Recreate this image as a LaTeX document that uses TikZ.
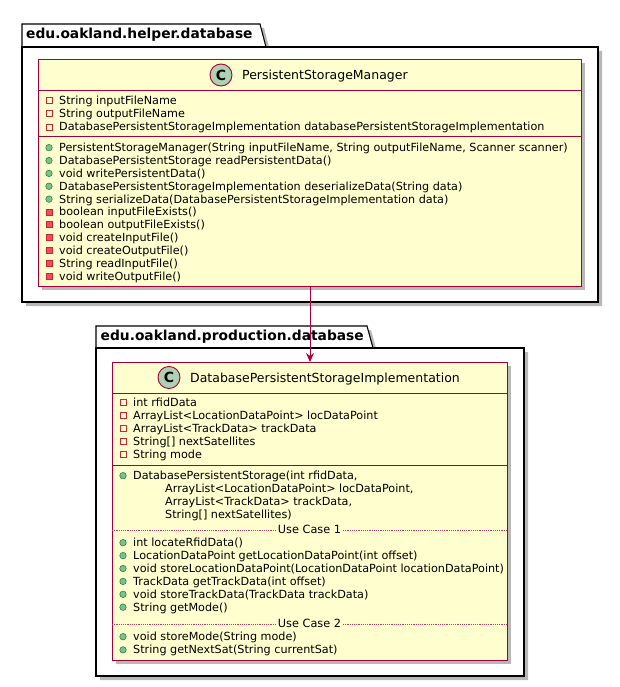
\documentclass[tikz,border=0pt]{standalone}
\usepackage{fontspec}
\setmainfont{DejaVu Sans}
\usetikzlibrary{arrows.meta}

\definecolor{umlred}{HTML}{A80036}
\definecolor{umlfill}{HTML}{FEFECE}
\definecolor{umlspot}{HTML}{ADD1B2}
\definecolor{privline}{HTML}{C82930}
\definecolor{privfill}{HTML}{F24D5C}
\definecolor{publine}{HTML}{038048}
\definecolor{pubfill}{HTML}{84BE84}

\tikzset{
  pkgbox/.style={draw=black, fill=white, line width=1.1pt},
  clsbox/.style={draw=umlred, fill=umlfill, line width=1pt, inner sep=0pt, anchor=north west},
  shadowed/.style={fill=black!28},
  pkgname/.style={anchor=base west, inner sep=0pt, font=\fontsize{13.8}{16}\selectfont\bfseries},
  clsname/.style={anchor=base west, inner sep=0pt, font=\fontsize{12.5}{15}\selectfont},
  member/.style={anchor=base west, inner sep=0pt, font=\fontsize{11.2}{13}\selectfont},
  prvfield/.style={draw=privline, fill=umlfill, minimum size=6pt, inner sep=0pt, line width=0.7pt},
  prvmeth/.style={draw=privline, fill=privfill, minimum size=6pt, inner sep=0pt, line width=0.7pt},
  pubmeth/.style={circle, draw=publine, fill=pubfill, minimum size=6.5pt, inner sep=0pt, line width=0.5pt},
  spot/.style={circle, draw=umlred, fill=umlspot, minimum size=22pt, inner sep=0pt, line width=0.9pt,
    font=\fontsize{14}{14}\selectfont\bfseries},
  usecase/.style={fill=umlfill, inner sep=1.5pt, font=\fontsize{11.3}{13}\selectfont},
  sepline/.style={draw=umlred!75, line width=0.6pt, dash pattern=on 1.2pt off 1pt},
  assoc/.style={draw=umlred, line width=0.9pt, -{Stealth[length=9pt,width=8pt,inset=3pt]}},
}

\begin{document}
\begin{tikzpicture}[x=1pt, y=-1pt]
  \useasboundingbox (0,0) rectangle (619,687);

  % package edu.oakland.helper.database
  \fill[shadowed] (26,28) -- (264,28) -- (270,51) -- (602,51) -- (602,306) -- (26,306) -- cycle;
  \draw[pkgbox] (22,47) -- (22,24) -- (260,24) -- (266,47) -- cycle;
  \draw[pkgbox] (22,47) rectangle (598,302);
  \node[pkgname] (helperpkg) at (26,38.5) {edu.oakland.helper.database};

  % package edu.oakland.production.database
  \fill[shadowed] (100,330) -- (371,330) -- (377,352) -- (528,352) -- (528,680) -- (100,680) -- cycle;
  \draw[pkgbox] (96,348) -- (96,326) -- (367,326) -- (373,348) -- cycle;
  \draw[pkgbox] (96,348) rectangle (524,676);
  \node[pkgname] (prodpkg) at (100.5,340) {edu.oakland.production.database};

  % class PersistentStorageManager
  \fill[shadowed] (42,63) rectangle (585,290);
  \node[clsbox, minimum width=543pt, minimum height=227pt] (psm) at (38,59) {};
  \draw[umlred, line width=1pt] (38,91) -- (581,91);
  \draw[umlred, line width=1pt] (38,137) -- (581,137);
  \node[spot] (psmspot) at (221,75) {C};
  \node[clsname] (psmname) at (242,79.5) {PersistentStorageManager};

  \foreach \kind/\txt [count=\i] in {
      prvfield/String inputFileName,
      prvfield/String outputFileName,
      prvfield/DatabasePersistentStorageImplementation databasePersistentStorageImplementation} {
    \node[\kind] (psmfi\i) at (49,{100.7+13.1*(\i-1)}) {};
    \node[member] (psmf\i) at (59,{104.7+13.1*(\i-1)}) {\txt};
  }
  \foreach \kind/\txt [count=\i] in {
      pubmeth/{PersistentStorageManager(String inputFileName, String outputFileName, Scanner scanner)},
      pubmeth/DatabasePersistentStorage readPersistentData(),
      pubmeth/void writePersistentData(),
      pubmeth/DatabasePersistentStorageImplementation deserializeData(String data),
      pubmeth/String serializeData(DatabasePersistentStorageImplementation data),
      prvmeth/boolean inputFileExists(),
      prvmeth/boolean outputFileExists(),
      prvmeth/void createInputFile(),
      prvmeth/void createOutputFile(),
      prvmeth/String readInputFile(),
      prvmeth/void writeOutputFile()} {
    \node[\kind] (psmmi\i) at (49,{147.7+12.85*(\i-1)}) {};
    \node[member] (psmm\i) at (59,{151.7+12.85*(\i-1)}) {\txt};
  }

  % class DatabasePersistentStorageImplementation
  \fill[shadowed] (116,366) rectangle (511,664);
  \node[clsbox, minimum width=395pt, minimum height=298pt] (dpsi) at (112,362) {};
  \draw[umlred, line width=1pt] (112,393) -- (507,393);
  \draw[umlred, line width=1pt] (112,465.5) -- (507,465.5);
  \node[spot] (dpsispot) at (169,377.5) {C};
  \node[clsname] (dpsiname) at (190,382) {DatabasePersistentStorageImplementation};

  \foreach \txt [count=\i] in {int rfidData, ArrayList<LocationDataPoint> locDataPoint,
      ArrayList<TrackData> trackData, {String[] nextSatellites}, String mode} {
    \node[prvfield] (dpsifi\i) at (123,{402.3+13.1*(\i-1)}) {};
    \node[member] (dpsif\i) at (133,{406.3+13.1*(\i-1)}) {\txt};
  }

  \node[pubmeth] (dpsici) at (123,475.7) {};
  \node[member] (dpsic1) at (133,479.7) {DatabasePersistentStorage(int rfidData,};
  \node[member] (dpsic2) at (165,492.5) {ArrayList<LocationDataPoint> locDataPoint,};
  \node[member] (dpsic3) at (165,505.3) {ArrayList<TrackData> trackData,};
  \node[member] (dpsic4) at (165,518.1) {String[] nextSatellites)};

  \draw[sepline] (112,530) -- (507,530);
  \node[usecase] (uc1) at (309.5,529.5) {Use Case 1};
  \foreach \txt [count=\i] in {int locateRfidData(),
      LocationDataPoint getLocationDataPoint(int offset),
      void storeLocationDataPoint(LocationDataPoint locationDataPoint),
      TrackData getTrackData(int offset),
      void storeTrackData(TrackData trackData),
      String getMode()} {
    \node[pubmeth] (dpsiai\i) at (123,{542.7+12.9*(\i-1)}) {};
    \node[member] (dpsia\i) at (133,{546.7+12.9*(\i-1)}) {\txt};
  }

  \draw[sepline] (112,624) -- (507,624);
  \node[usecase] (uc2) at (309.5,623.5) {Use Case 2};
  \foreach \txt [count=\i] in {void storeMode(String mode), String getNextSat(String currentSat)} {
    \node[pubmeth] (dpsibi\i) at (123,{636.7+13.2*(\i-1)}) {};
    \node[member] (dpsib\i) at (133,{640.7+13.2*(\i-1)}) {\txt};
  }

  \draw[assoc] (psm.south) -- (dpsi.north);
\end{tikzpicture}
\end{document}
